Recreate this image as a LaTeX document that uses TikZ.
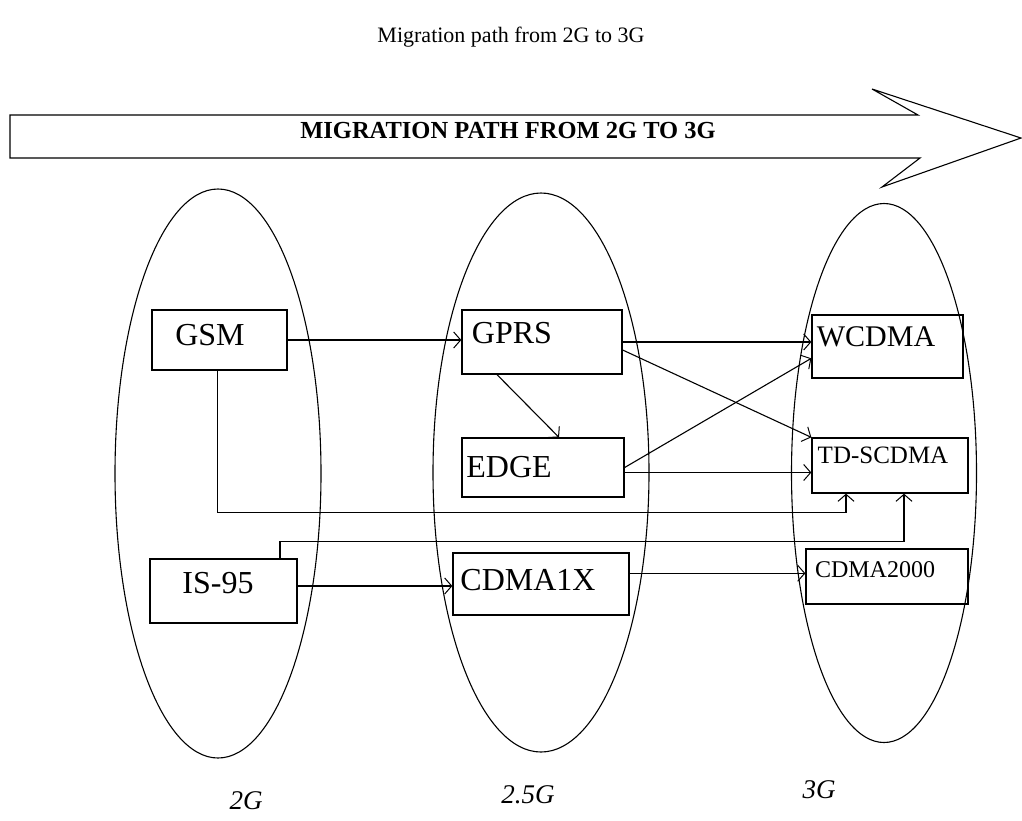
\documentclass[tikz,border=0pt]{standalone}
\usepackage{fontspec}
\setmainfont{Liberation Serif}
\usetikzlibrary{arrows.meta,shapes.geometric}

\begin{document}
\begin{tikzpicture}[x=1pt,y=-1pt,
  ln/.style={draw=black,line width=1.1pt},
  arr/.style={ln,-{Straight Barb[length=7pt,width=16pt,line width=1pt]}},
  era/.style={ellipse,draw=black,line width=1.1pt,inner sep=0pt},
  tech/.style={rectangle,draw=black,line width=1.3pt,inner sep=0pt},
  tlabel/.style={inner sep=0pt,font=\fontsize{32}{36}\selectfont},
  slabel/.style={inner sep=0pt,font=\fontsize{25}{30}\selectfont},
  glabel/.style={inner sep=0pt,font=\itshape\fontsize{27}{32}\selectfont},
]
\useasboundingbox (0,0) rectangle (1022,820);

% heading
\node[inner sep=0pt,font=\fontsize{22}{26}\selectfont] (title) at (511,37) {Migration path from 2G to 3G};

% banner arrow
\draw[ln] (10,115) -- (918,115) -- (872,89) -- (1021,138) -- (882,187)
  -- (920,158) -- (10,158) -- cycle;
\node[inner sep=0pt,font=\bfseries\fontsize{24.5}{28}\selectfont] (banner) at (508,131)
  {MIGRATION PATH FROM 2G TO 3G};

% generations
\node[era,minimum width=206pt,minimum height=569pt] (g2)  at (218,473.5) {};
\node[era,minimum width=216pt,minimum height=559pt] (g25) at (541,472.5) {};
\node[era,minimum width=185pt,minimum height=539pt] (g3)  at (884,473) {};

% technologies
\node[tech,minimum width=135pt,minimum height=60pt] (gsm)      at (219.5,340) {};
\node[tech,minimum width=160pt,minimum height=64pt] (gprs)     at (542,342) {};
\node[tech,minimum width=162pt,minimum height=59pt] (edge)     at (543,467.5) {};
\node[tech,minimum width=176pt,minimum height=62pt] (cdma1x)   at (541,584) {};
\node[tech,minimum width=147pt,minimum height=64pt] (is95)     at (223.5,591) {};
\node[tech,minimum width=151pt,minimum height=63pt] (wcdma)    at (887.5,346.5) {};
\node[tech,minimum width=156pt,minimum height=55pt] (tdscdma)  at (890,465.5) {};
\node[tech,minimum width=162pt,minimum height=55pt] (cdma2000) at (887,576.5) {};

\node[tlabel] (tgsm)    at (210,335) {GSM};
\node[tlabel] (tgprs)   at (512,333) {GPRS};
\node[tlabel] (tedge)   at (509,467) {EDGE};
\node[tlabel] (tcdma1x) at (528,580) {CDMA1X};
\node[tlabel] (tis95)   at (218,583) {IS-95};
\node[tlabel,font=\fontsize{30}{34}\selectfont] (twcdma) at (876,337) {WCDMA};
\node[slabel] (ttd)     at (883,455) {TD-SCDMA};
\node[slabel,font=\fontsize{24}{28}\selectfont] (tcdma2000) at (875,570) {CDMA2000};

% migration links
\draw[arr] (gsm.east) -- (gsm.east -| gprs.west);
\draw[arr] (gprs.east) -- (gprs.east -| wcdma.west);
\draw[arr] ([yshift=-8pt]gprs.east) -- (tdscdma.north west);
\draw[arr] ([xshift=-45pt]gprs.south) -- ([xshift=16pt]edge.north);
\draw[arr] (edge.east) -- ([yshift=-11.8pt]wcdma.west);
\draw[arr] ([yshift=-5pt]edge.east) -- ([yshift=-5pt]edge.east -| tdscdma.west);
\draw[arr] ([xshift=-2pt]gsm.south) -- ++(0,142) -| ([xshift=-44pt]tdscdma.south);
\draw[arr] ([xshift=56.5pt]is95.north) -- ++(0,-16.5) -| ([xshift=14pt]tdscdma.south);
\draw[arr] ([yshift=5pt]is95.east) -- ([yshift=5pt]is95.east -| cdma1x.west);
\draw[arr] ([yshift=10.7pt]cdma1x.east) -- ([yshift=10.7pt]cdma1x.east -| cdma2000.west);

% generation captions
\node[glabel] (l2)  at (246,801) {2G};
\node[glabel] (l25) at (528,795) {2.5G};
\node[glabel] (l3)  at (819,790) {3G};
\end{tikzpicture}
\end{document}
